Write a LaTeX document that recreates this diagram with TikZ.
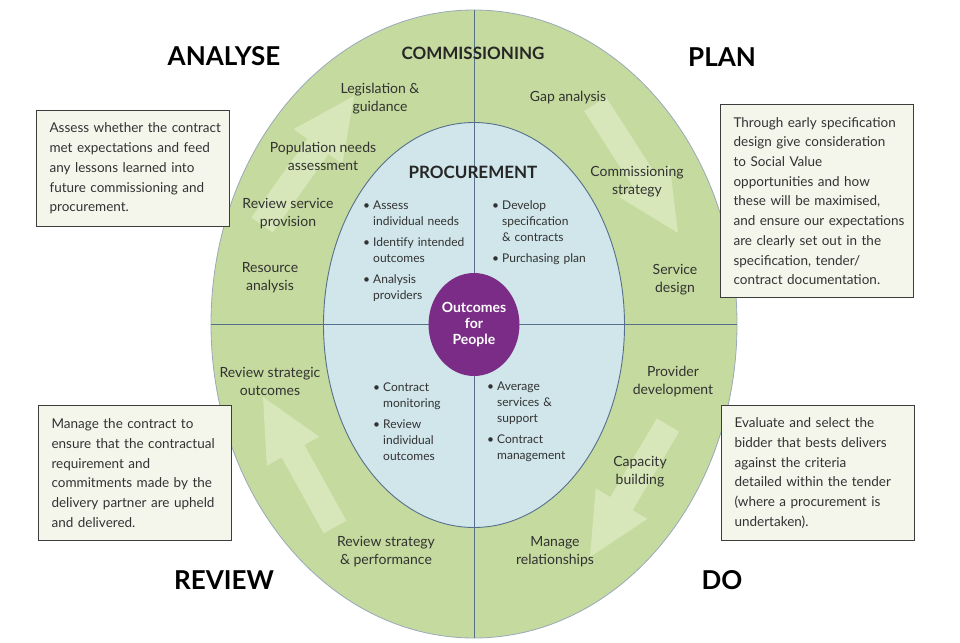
\documentclass[tikz,border=0pt]{standalone}
\usepackage{fontspec}
\setmainfont{Lato}
\usetikzlibrary{calc, shapes.geometric}

\definecolor{ringgreen}{RGB}{197,218,158}
\definecolor{arrowgreen}{RGB}{215,231,186}
\definecolor{innerblue}{RGB}{208,230,234}
\definecolor{splitline}{RGB}{86,112,140}
\definecolor{hubpurple}{RGB}{123,44,135}
\definecolor{notefill}{RGB}{244,246,236}
\definecolor{noteline}{RGB}{60,60,60}
\definecolor{bodytext}{RGB}{50,50,50}

% one bullet point with hanging indent
\newcommand{\bitem}[1]{\par\hangindent=10pt\hangafter=1\noindent\makebox[10pt][l]{\textbullet}#1\par\vspace{5pt}}

% broad faint arrow from tail to tip
\newcommand{\fatarrow}[2]{%
  \coordinate (neck) at ($(#2)!62pt!(#1)$);
  \fill[bigarrow] ($(#1)!13pt!90:(#2)$) -- ($(neck)!13pt!90:(#2)$) -- ($(neck)!30pt!90:(#2)$) -- (#2)
    -- ($(neck)!30pt!-90:(#2)$) -- ($(neck)!13pt!-90:(#2)$) -- ($(#1)!13pt!-90:(#2)$) -- cycle;}

\begin{document}
\begin{tikzpicture}[x=1pt, y=-1pt,
    heading/.style={font=\fontsize{26}{30}\selectfont\bfseries, text=black},
    title/.style={font=\fontsize{17}{20}\selectfont\bfseries, text=black!85},
    stage/.style={align=center, font=\fontsize{14}{18}\selectfont, text=bodytext},
    steps/.style={text width=120pt, align=left, inner sep=0pt, anchor=base west, font=\fontsize{12}{16}\selectfont, text=bodytext},
    note/.style={draw=noteline, line width=1.1pt, fill=notefill, text width=167pt, inner xsep=13pt, align=left, anchor=north west,
      font=\fontsize{13.5}{19.7}\selectfont, text=bodytext, execute at begin node={\rightskip=-12pt plus 1fil}},
    bigarrow/.style={fill=arrowgreen},
    divider/.style={draw=splitline, line width=0.9pt}
]
\useasboundingbox (0,0) rectangle (960,642);

% rings
\node[ellipse, fill=ringgreen, draw=splitline!60, line width=0.8pt, minimum width=526pt, minimum height=628pt, inner sep=0pt, outer sep=0pt] (ring) at (474,324) {};

\coordinate (a1tail) at (262,225); \coordinate (a1tip) at (354,96);
\coordinate (a2tail) at (595,104); \coordinate (a2tip) at (678,233);
\coordinate (a3tail) at (668,425); \coordinate (a3tip) at (590,557);
\coordinate (a4tail) at (335,527); \coordinate (a4tip) at (263,397);
\fatarrow{a1tail}{a1tip}
\fatarrow{a2tail}{a2tip}
\fatarrow{a3tail}{a3tip}
\fatarrow{a4tail}{a4tip}

\node[ellipse, fill=innerblue, draw=splitline, line width=0.9pt, minimum width=301pt, minimum height=405pt, inner sep=0pt, outer sep=0pt] (core) at (474,325) {};

\draw[divider] (ring.north) -- (ring.south);
\draw[divider] (ring.west) -- (ring.east);

\node[ellipse, fill=hubpurple, minimum width=88pt, minimum height=103pt, inner sep=0pt, text=white, align=center, font=\fontsize{14}{16}\selectfont\bfseries] (hub) at (474,324.5) {Outcomes\\for\\People};

% headings
\node[heading] (analyse) at (224,56.5) {ANALYSE};
\node[heading] (plan) at (722,57) {PLAN};
\node[heading] (review) at (224,580) {REVIEW};
\node[heading] (do) at (722,580) {DO};
\node[title] (commissioning) at (473,53) {COMMISSIONING};
\node[title] (procurement) at (473,172) {PROCUREMENT};

% outer ring stages
\node[stage] (legislation) at (380,99) {Legislation \&\\guidance};
\node[stage] (gap) at (568,98) {Gap analysis};
\node[stage] (population) at (323,156) {Population needs\\assessment};
\node[stage] (strategy) at (637,182) {Commissioning\\strategy};
\node[stage] (provision) at (288,214) {Review service\\provision};
\node[stage] (resource) at (270,278) {Resource\\analysis};
\node[stage] (design) at (675,280) {Service\\design};
\node[stage] (strategic) at (270,381) {Review strategic\\outcomes};
\node[stage] (provider) at (673,382) {Provider\\development};
\node[stage] (capacity) at (640,472) {Capacity\\building};
\node[stage] (performance) at (386,552) {Review strategy\\\& performance};
\node[stage] (relations) at (555,552) {Manage\\relationships};

% procurement steps
\node[steps] (assess) at (363,193) {\bitem{Assess\newline individual needs}\bitem{Identify intended\newline outcomes}\bitem{Analysis\newline providers}};
\node[steps] (develop) at (492,193) {\bitem{Develop\newline specification\newline \& contracts}\bitem{Purchasing plan}};
\node[steps] (monitor) at (373,375) {\bitem{Contract\newline monitoring}\bitem{Review\newline individual\newline outcomes}};
\node[steps] (average) at (487,374) {\bitem{Average\newline services \&\newline support}\bitem{Contract\newline management}};

% notes
\node[note, minimum height=116pt] (lessons) at (36,110) {Assess whether the contract\\met expectations and feed\\any lessons learned into\\future commissioning and\\procurement.};
\node[note, minimum height=193pt] (socialvalue) at (720,104) {Through early specification\\design give consideration\\to Social Value\\opportunities and how\\these will be maximised,\\and ensure our expectations\\are clearly set out in the\\specification, tender/\\contract documentation.};
\node[note, minimum height=135pt] (upheld) at (38,405) {Manage the contract to\\ensure that the contractual\\requirement and\\commitments made by the\\delivery partner are upheld\\and delivered.};
\node[note, minimum height=135pt] (evaluate) at (721,405) {Evaluate and select the\\bidder that bests delivers\\against the criteria\\detailed within the tender\\(where a procurement is\\undertaken).};
\end{tikzpicture}
\end{document}
